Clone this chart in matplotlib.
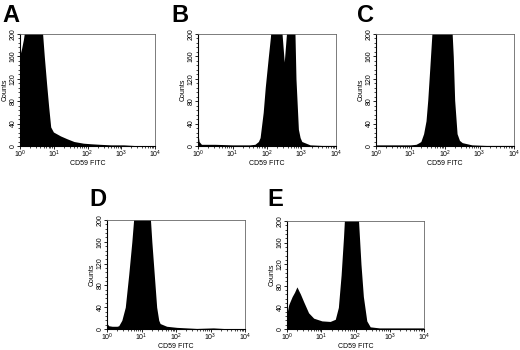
import numpy as np
import matplotlib
matplotlib.use("Agg")
import matplotlib.pyplot as plt
from matplotlib.ticker import MultipleLocator, LogLocator, NullFormatter

plt.rcParams['font.family'] = ['Liberation Sans', 'DejaVu Sans']

# -------------------------------------------
#  Histogramas CD59 FITC (log10 da intensidade)
# -------------------------------------------

panel_names = ['A', 'B', 'C', 'D', 'E']

a_logx = [0.0, 0.05, 0.1, 0.15, 0.3, 0.5, 0.62, 0.67, 0.72, 0.79, 0.85, 0.91, 0.99, 1.2, 1.39, 1.6, 1.88, 2.1, 2.37, 2.7, 3.07, 3.5, 4.0]
a_counts = [163, 175, 190, 210, 260, 260, 240, 200, 160, 110, 70, 34, 25, 18, 13, 8, 5, 4, 3, 2, 2, 0.5, 0.5]

b_logx = [0.0, 0.03, 0.1, 0.5, 1.0, 1.5, 1.65, 1.75, 1.8, 1.89, 1.95, 2.04, 2.1, 2.14, 2.3, 2.43, 2.5, 2.57, 2.7, 2.8, 2.84, 2.91, 2.96, 3.01, 3.25, 3.6, 4.0]
b_counts = [22, 8, 3, 3, 2, 2, 3, 8, 15, 60, 105, 160, 195, 230, 260, 205, 150, 205, 260, 230, 120, 30, 15, 8, 2, 1, 1]

c_logx = [0.0, 0.5, 1.0, 1.16, 1.25, 1.3, 1.38, 1.45, 1.5, 1.56, 1.62, 1.66, 1.9, 2.2, 2.24, 2.28, 2.35, 2.42, 2.5, 2.78, 3.2, 4.0]
c_counts = [2, 2, 2, 3, 6, 8, 22, 45, 82, 140, 200, 260, 260, 210, 160, 82, 22, 10, 6, 2, 1, 1]

d_logx = [0.0, 0.05, 0.15, 0.29, 0.34, 0.43, 0.53, 0.63, 0.72, 0.79, 1.0, 1.25, 1.3, 1.37, 1.44, 1.5, 1.54, 1.73, 2.02, 2.6, 3.08, 3.5, 4.0]
d_counts = [10, 6, 5, 5, 6, 16, 40, 100, 160, 215, 260, 210, 160, 100, 40, 16, 10, 5, 3, 1, 2, 0.5, 0.5]

e_logx = [0.0, 0.05, 0.15, 0.22, 0.29, 0.35, 0.39, 0.49, 0.63, 0.78, 1.02, 1.26, 1.41, 1.5, 1.58, 1.65, 1.7, 2.0, 2.08, 2.16, 2.23, 2.33, 2.43, 2.7, 3.2, 3.6, 4.0]
e_counts = [29, 45, 60, 68, 78, 70, 65, 50, 30, 20, 15, 14, 18, 40, 100, 170, 230, 260, 210, 120, 60, 15, 4, 2, 2, 2, 2]

series = [(a_logx, a_counts), (b_logx, b_counts), (c_logx, c_counts),
          (d_logx, d_counts), (e_logx, e_counts)]

# posicoes em pixels: esquerda, topo, direita, base
W, H = 520, 350
boxes = [(20, 34, 155, 146), (198, 34, 336, 146), (376, 34, 514, 146),
         (107, 220, 245, 329), (287, 221, 424, 329)]
letter_pos = [(2, 22), (171, 22), (357, 22), (89, 206), (267, 206)]

fig = plt.figure(figsize=(W / 100, H / 100), dpi=100)

for name, (lx, cnt), box, lp in zip(panel_names, series, boxes, letter_pos):
    x0, y0, x1, y1 = box
    ax = fig.add_axes([x0 / W, 1 - y1 / H, (x1 - x0) / W, (y1 - y0) / H])
    x = 10 ** np.array(lx)
    ax.fill_between(x, 0, cnt, color='black', lw=0)
    ax.set_xscale('log')
    ax.set_xlim(1, 1e4)
    ax.set_ylim(0, 200)
    ax.yaxis.set_major_locator(MultipleLocator(40))
    ax.yaxis.set_minor_locator(MultipleLocator(8))
    ax.xaxis.set_major_locator(LogLocator(base=10, numticks=10))
    ax.xaxis.set_minor_locator(LogLocator(base=10, subs=np.arange(2, 10), numticks=10))
    ax.xaxis.set_minor_formatter(NullFormatter())
    ax.tick_params(axis='both', which='major', labelsize=5, length=2, width=0.6, pad=0.5)
    ax.tick_params(axis='both', which='minor', length=1.3, width=0.5)
    ax.tick_params(axis='x', pad=0)
    ax.tick_params(axis='y', labelrotation=90)
    for lab in ax.get_yticklabels():
        lab.set_va('center')
    ax.set_xlabel('CD59 FITC', fontsize=5, labelpad=-0.3)
    ax.set_ylabel('Counts', fontsize=5, labelpad=1)
    ax.spines['left'].set_linewidth(0.8)
    ax.spines['bottom'].set_linewidth(0.8)
    ax.spines['top'].set_color('#666666')
    ax.spines['right'].set_color('#666666')
    ax.spines['top'].set_linewidth(0.6)
    ax.spines['right'].set_linewidth(0.6)
    fig.text(lp[0] / W, 1 - lp[1] / H, name, fontsize=17, fontweight='bold',
             ha='left', va='baseline')

fig.savefig('out.png', dpi=100)
